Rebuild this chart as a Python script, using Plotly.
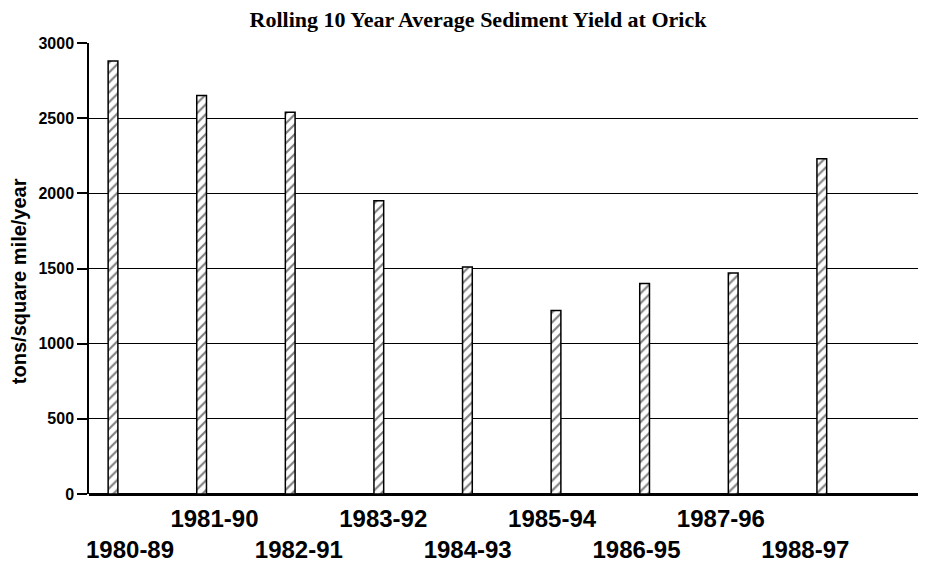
import numpy as np
import plotly.graph_objects as go

periods = ["1980-89", "1981-90", "1982-91", "1983-92", "1984-93",
           "1985-94", "1986-95", "1987-96", "1988-97"]
sediment_yield = [2880, 2650, 2540, 1950, 1510, 1220, 1400, 1470, 2230]
y_ticks = [0, 500, 1000, 1500, 2000, 2500, 3000]

idx = np.arange(len(periods))
# staggered labels: even positions on the lower row
label_text = [("<br>" + p) if i % 2 == 0 else p for i, p in enumerate(periods)]

fig = go.Figure()
fig.add_trace(go.Bar(
    x=idx, y=sediment_yield, width=0.11,
    marker=dict(color="white", line=dict(color="black", width=1.5),
                pattern=dict(shape="/", fgcolor="black", bgcolor="white",
                             size=7, solidity=0.3)),
    showlegend=False, hoverinfo="y",
))
# invisible trace to carry the staggered category labels
fig.add_trace(go.Scatter(x=idx, y=[None] * len(idx), xaxis="x2",
                         mode="markers", showlegend=False, hoverinfo="skip"))

fig.update_layout(
    width=918, height=557,
    margin=dict(l=81, r=0, t=35, b=71, autoexpand=False),
    paper_bgcolor="white", plot_bgcolor="white",
    title=dict(text="<b>Rolling 10 Year Average Sediment Yield at Orick</b>",
               x=0.512, xanchor="center", y=0.980, yanchor="middle",
               font=dict(family="Liberation Serif", size=22, color="black")),
    xaxis=dict(range=[-0.271, 9.176], showgrid=False, zeroline=False,
               showticklabels=False, showline=False, ticks="",
               automargin=False),
    xaxis2=dict(overlaying="x", anchor="y", side="bottom",
                range=[-0.486, 9.43], tickmode="array", tickvals=idx,
                ticktext=label_text, showgrid=False, zeroline=False,
                showline=False, ticks="", ticklabelstandoff=8, tickangle=0,
                automargin=False,
                tickfont=dict(family="Liberation Sans", size=24, color="black",
                              weight="bold")),
    yaxis=dict(range=[0, 3000], tickmode="array", tickvals=y_ticks,
               ticks="outside", ticklen=10, tickwidth=1.5, tickcolor="black",
               showgrid=True, gridcolor="black", gridwidth=1.3,
               zeroline=True, zerolinecolor="black", zerolinewidth=2.5,
               showline=True, linecolor="black", linewidth=1.5,
               automargin=False,
               tickfont=dict(family="Liberation Sans", size=16, color="black",
                             weight="bold")),
    annotations=[dict(text="tons/square mile/year", textangle=-90,
                      xref="paper", yref="paper", x=0, y=0.472,
                      xanchor="center", yanchor="middle", xshift=-70,
                      showarrow=False,
                      font=dict(family="Liberation Sans", size=20,
                                color="black", weight="bold"))],
)
fig.write_html("out.html")
